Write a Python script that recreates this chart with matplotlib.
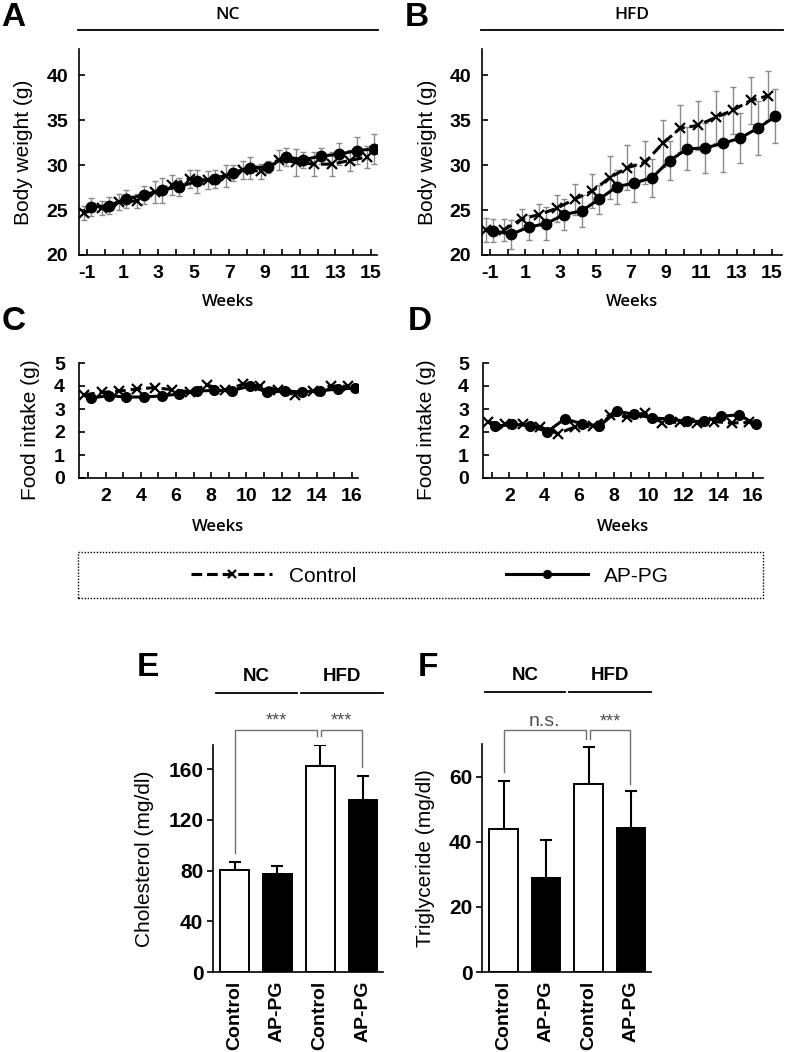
import matplotlib
matplotlib.use("Agg")
import matplotlib.pyplot as plt
from matplotlib.patches import Rectangle
import matplotlib.transforms as mtransforms

plt.rcParams['font.family'] = ['Liberation Sans', 'DejaVu Sans']

# body weight (weeks -1..15)
weeks_bw = list(range(-1, 16))
bw_tick_labels = ['-1', '', '1', '', '3', '', '5', '', '7', '', '9', '', '11', '', '13', '', '15']

nc_bw_ctrl = [24.7, 25.2, 25.9, 26.0, 27.0, 27.8, 28.5, 28.3, 28.8, 29.5, 29.3, 30.6, 30.3, 30.1, 30.1, 30.5, 30.9]
nc_bw_ctrl_sd = [0.8, 0.8, 0.9, 0.8, 1.2, 1.1, 1.0, 1.0, 1.2, 1.0, 0.8, 1.1, 1.5, 1.3, 1.3, 1.2, 1.2]
nc_bw_appg = [25.3, 25.5, 26.2, 26.7, 27.2, 27.6, 28.2, 28.5, 29.1, 29.7, 29.8, 30.9, 30.6, 31.0, 31.2, 31.6, 31.8]
nc_bw_appg_sd = [1.0, 0.9, 1.0, 1.0, 1.4, 1.0, 1.3, 1.0, 0.9, 1.2, 0.7, 1.0, 0.9, 0.9, 1.2, 1.5, 1.7]

hfd_bw_ctrl = [22.8, 22.8, 24.0, 24.5, 25.2, 26.2, 27.1, 28.6, 29.7, 30.3, 32.4, 34.1, 34.4, 35.3, 36.1, 37.2, 37.7]
hfd_bw_ctrl_sd = [1.3, 1.2, 1.1, 1.2, 1.5, 1.7, 1.9, 2.4, 2.5, 2.4, 2.6, 2.6, 2.7, 2.9, 2.6, 2.6, 2.7]
hfd_bw_appg = [22.7, 22.3, 23.1, 23.5, 24.5, 24.9, 26.2, 27.6, 28.0, 28.6, 30.5, 31.8, 31.9, 32.4, 33.0, 34.1, 35.4]
hfd_bw_appg_sd = [1.3, 1.6, 1.4, 1.8, 1.7, 1.8, 1.6, 1.9, 2.1, 2.1, 2.2, 2.4, 2.8, 3.2, 2.8, 3.0, 3.0]

# food intake (weeks 1..16)
weeks_fi = list(range(1, 17))
fi_tick_labels = ['', '2', '', '4', '', '6', '', '8', '', '10', '', '12', '', '14', '', '16']

nc_fi_ctrl = [3.62, 3.72, 3.78, 3.87, 3.93, 3.84, 3.75, 4.04, 3.81, 4.07, 4.01, 3.84, 3.61, 3.78, 4.0, 3.99]
nc_fi_appg = [3.48, 3.58, 3.52, 3.52, 3.57, 3.65, 3.78, 3.81, 3.80, 3.99, 3.74, 3.78, 3.74, 3.80, 3.86, 3.91]
hfd_fi_ctrl = [2.43, 2.33, 2.33, 2.22, 1.93, 2.22, 2.25, 2.75, 2.65, 2.83, 2.41, 2.43, 2.39, 2.45, 2.39, 2.42]
hfd_fi_appg = [2.25, 2.33, 2.28, 2.01, 2.57, 2.36, 2.26, 2.90, 2.77, 2.61, 2.57, 2.46, 2.46, 2.68, 2.75, 2.33]

# serum lipids
groups = ['Control', 'AP-PG', 'Control', 'AP-PG']
chol = [80.3, 77.6, 162.4, 135.3]
chol_err = [6.5, 6.1, 16.6, 19.2]
tg = [43.8, 28.9, 57.6, 44.2]
tg_err = [14.8, 11.5, 11.6, 11.4]

W, H = 787, 1052
fig = plt.figure(figsize=(W / 100, H / 100), dpi=100)


def px_axes(left, top, right, bottom):
    return fig.add_axes([left / W, 1 - bottom / H, (right - left) / W, (bottom - top) / H])


def style_line_axes(ax, ypad):
    for s in ['top', 'right']:
        ax.spines[s].set_visible(False)
    for s in ['left', 'bottom']:
        ax.spines[s].set_linewidth(1.2)
    ax.tick_params(axis='x', direction='in', length=4, width=1.2, pad=7, labelsize=14)
    ax.tick_params(axis='y', direction='in', length=4, width=1.2, pad=ypad, labelsize=14)
    for lab in ax.get_xticklabels() + ax.get_yticklabels():
        lab.set_fontweight('bold')


def bw_panel(ax, ctrl, ctrl_sd, appg, appg_sd, title):
    xc = [w - 0.2 for w in weeks_bw]
    xa = [w + 0.2 for w in weeks_bw]
    ax.errorbar(xc, ctrl, yerr=ctrl_sd, fmt='none', ecolor='#8a8a8a', elinewidth=1, capsize=2.5, zorder=1)
    ax.errorbar(xa, appg, yerr=appg_sd, fmt='none', ecolor='#8a8a8a', elinewidth=1, capsize=2.5, zorder=1)
    ax.plot(xc, ctrl, color='black', lw=2.2, dashes=(3.5, 1.6), marker='x', ms=7, mew=1.6, zorder=3)
    ax.plot(xa, appg, color='black', lw=2.2, marker='o', ms=7.5, zorder=4)
    ax.set_xlim(-1.47, 15.35)
    ax.set_ylim(20, 42.9)
    ax.set_xticks(weeks_bw)
    ax.set_xticklabels(bw_tick_labels)
    ax.set_yticks([20, 25, 30, 35, 40])
    style_line_axes(ax, 8)
    ax.set_ylabel('Body weight (g)', fontsize=15)
    ax.yaxis.set_label_coords(-0.185, 0.5)
    ax.yaxis.label.set_va('center')
    ax.set_xlabel('Weeks', fontsize=12, family='Open Sans', fontweight='semibold')
    ax.xaxis.set_label_coords(0.5, -0.228)
    ax.xaxis.label.set_va('center')
    ax.plot([-0.004, 1.004], [1.092, 1.092], transform=ax.transAxes, color='black', lw=1.3, clip_on=False)
    ax.text(0.5, 1.165, title, transform=ax.transAxes, ha='center', va='center',
            fontsize=12.5, family='Open Sans', fontweight='semibold')


def fi_panel(ax, ctrl, appg, right):
    xc = [w - 0.22 for w in weeks_fi]
    xa = [w + 0.18 for w in weeks_fi]
    lc, = ax.plot(xc, ctrl, color='black', lw=2.2, dashes=(3.5, 1.6), marker='x', ms=6.5, mew=1.6,
                  zorder=3, label='Control')
    la, = ax.plot(xa, appg, color='black', lw=2.2, marker='o', ms=7, zorder=4, label='AP-PG')
    ax.set_xlim(0.49, right)
    ax.set_ylim(0, 5)
    ax.set_xticks(weeks_fi)
    ax.set_xticklabels(fi_tick_labels)
    ax.set_yticks(range(6))
    style_line_axes(ax, 10)
    ax.set_ylabel('Food intake (g)', fontsize=15)
    ax.yaxis.set_label_coords(-0.175, 0.42)
    ax.yaxis.label.set_va('center')
    ax.set_xlabel('Weeks', fontsize=12, family='Open Sans', fontweight='semibold')
    ax.xaxis.set_label_coords(0.5, -0.43)
    ax.xaxis.label.set_va('center')
    return lc, la


def bracket(ax, x0, x1, ytop, yleft, yright, label, size):
    ax.plot([x0, x0, x1, x1], [yleft, ytop, ytop, yright], color='#707070', lw=1, clip_on=False)
    ax.text((x0 + x1) / 2, ytop, label, ha='center', va='bottom', fontsize=size, color='#505050', clip_on=False)


def lipid_panel(ax, vals, errs, ylim, yticks, ylabel, ytop, legs1, legs2, lab1, tf):
    x = range(len(groups))
    ax.bar(x, vals, width=0.67, color=['white', 'black', 'white', 'black'], edgecolor='black',
           linewidth=1.4, zorder=2)
    ax.errorbar(x, vals, yerr=[[0] * len(errs), errs], fmt='none', ecolor='black', elinewidth=1.5,
                capsize=4, capthick=1.5, zorder=1)
    ax.set_xlim(-0.51, 3.47)
    ax.set_ylim(*ylim)
    ax.set_yticks(yticks)
    ax.set_xticks(list(x))
    ax.set_xticklabels(groups, rotation=90, fontsize=14, fontweight='bold')
    for s in ['top', 'right']:
        ax.spines[s].set_visible(False)
    for s in ['left', 'bottom']:
        ax.spines[s].set_linewidth(1.2)
    ax.tick_params(axis='x', length=0, pad=6)
    ax.tick_params(axis='y', direction='out', length=4, width=1.2, pad=3, labelsize=15)
    for lab in ax.get_yticklabels():
        lab.set_fontweight('bold')
    ax.set_ylabel(ylabel, fontsize=15)
    ax.yaxis.label.set_va('center')
    bracket(ax, 0, 1.93, ytop, legs1[0], legs1[1], lab1, tf)
    bracket(ax, 2.03, 2.98, ytop, legs2[0], legs2[1], '***', 13)
    trans = mtransforms.blended_transform_factory(ax.transData, ax.transAxes)
    ax.plot([-0.44, 1.45], [1.229, 1.229], transform=trans, color='black', lw=1.3, clip_on=False)
    ax.plot([1.55, 3.47], [1.229, 1.229], transform=trans, color='black', lw=1.3, clip_on=False)
    ax.text(0.5, 1.3, 'NC', transform=trans, ha='center', va='center', fontsize=13.5, fontweight='bold')
    ax.text(2.5, 1.3, 'HFD', transform=trans, ha='center', va='center', fontsize=13.5, fontweight='bold')


axA = px_axes(79, 49, 377, 255)
bw_panel(axA, nc_bw_ctrl, nc_bw_ctrl_sd, nc_bw_appg, nc_bw_appg_sd, 'NC')
axB = px_axes(482, 49, 782, 255)
bw_panel(axB, hfd_bw_ctrl, hfd_bw_ctrl_sd, hfd_bw_appg, hfd_bw_appg_sd, 'HFD')
axB.set_xlim(-1.45, 15.57)
axB.yaxis.set_label_coords(-0.183, 0.5)

axC = px_axes(79, 363, 358, 478)
lc, la = fi_panel(axC, nc_fi_ctrl, nc_fi_appg, 16.34)
axD = px_axes(483, 363, 763, 478)
fi_panel(axD, hfd_fi_ctrl, hfd_fi_appg, 16.57)
axD.yaxis.set_label_coords(-0.2, 0.42)

axE = px_axes(213, 745, 383, 972)
lipid_panel(axE, chol, chol_err, (0, 179), [0, 40, 80, 120, 160], 'Cholesterol (mg/dl)',
            191, (94, 186), (186, 162), '***', 13)
axE.yaxis.set_label_coords(-0.4, 0.5)
axF = px_axes(482, 744, 651, 972)
lipid_panel(axF, tg, tg_err, (0, 70), [0, 20, 40, 60], 'Triglyceride (mg/dl)',
            74.3, (61.5, 71.6), (71.6, 57.8), 'n.s.', 14)
axF.yaxis.set_label_coords(-0.337, 0.5)

# legend box
fig.add_artist(Rectangle((78 / W, 1 - 598 / H), (763 - 78) / W, 46 / H, transform=fig.transFigure,
                         fill=False, ec='black', lw=1, ls=(0, (1, 1.2))))
fig.legend([lc, la], ['Control', 'AP-PG'], loc='center', bbox_to_anchor=(430 / W, 1 - 576 / H),
           ncol=2, frameon=False, fontsize=15, handlelength=3.9, handletextpad=0.8, columnspacing=7.2,
           markerscale=0.8)

# panel letters
for letter, xp, yp in [('A', 1, 2), ('B', 405, 2), ('C', 2, 306), ('D', 408, 306), ('E', 137, 652), ('F', 418, 652)]:
    fig.text(xp / W, 1 - yp / H, letter, fontsize=24, fontweight='bold', va='top', ha='left')

fig.savefig('out.png', dpi=100)
